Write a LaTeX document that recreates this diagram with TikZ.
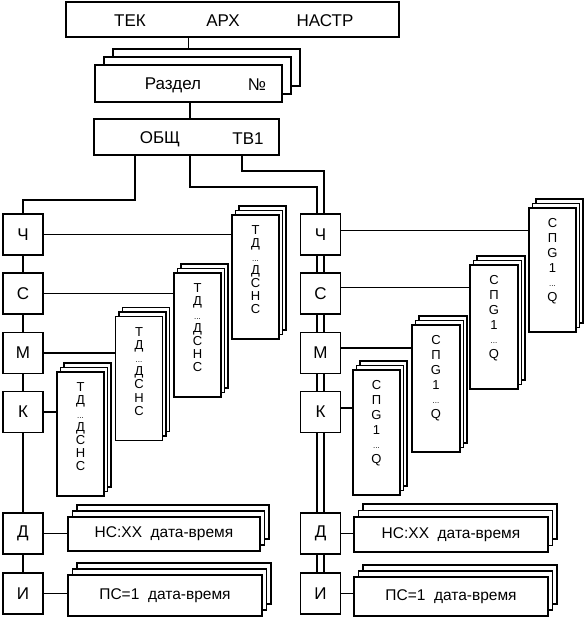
\documentclass[tikz,border=0pt]{standalone}
\usepackage{fontspec}
\setmainfont{Liberation Sans}
\usetikzlibrary{backgrounds}
\newcommand\mydots{{\fontsize{8}{8}\selectfont ...}}
\newcommand\mystack[7]{%
  \foreach \k in {2,1}{\draw[box] ({#2+\k*#6-#4/2},{#3-\k*#7-#5/2}) rectangle ++(#4,#5);}
  \node[box, minimum width=#4pt, minimum height=#5pt] (#1) at (#2,#3) {};
}
\tikzset{
  box/.style={draw, line width=1.7pt, fill=white, inner sep=0pt, outer sep=0pt},
  con/.style={line width=1.6pt},
  dbl/.style={line width=1.4pt},
  big/.style={font=\fontsize{17}{19}\selectfont, inner sep=0pt},
  rec/.style={font=\fontsize{15.5}{17}\selectfont, inner sep=0pt},
  col/.style={box, minimum width=40pt, minimum height=41pt, font=\fontsize{17}{19}\selectfont},
  vtxt/.style={align=center, font=\fontsize{13}{13.2}\selectfont, inner sep=0pt, anchor=north},
  vtxtb/.style={align=center, font=\fontsize{13}{14.8}\selectfont, inner sep=0pt, anchor=north},
}
\begin{document}
\begin{tikzpicture}[x=1pt,y=-1pt]
\useasboundingbox (0,0) rectangle (585,617);
% top boxes
\node[box, minimum width=333pt, minimum height=35pt] (top) at (232.5,19.5) {};
\node[big] (tek) at (130,21) {ТЕК};
\node[big] (arh) at (223,21) {АРХ};
\node[big] (nastr) at (325,21) {НАСТР};
\mystack{razdel}{188.5}{83.5}{187}{37}{9}{8}
\node[big] (razdelt) at (173,85) {Раздел};
\node[big] (nomer) at (257,85) {№};
\node[box, minimum width=185pt, minimum height=36pt] (obsch) at (186.5,137) {};
\node[big] (obscht) at (160,139) {ОБЩ};
\node[big] (tv1) at (248,139) {ТВ1};
% columns
\foreach \n/\t/\y in {ch/Ч/234.5, c/С/293.5, m/М/353, k/К/412, d/Д/533.5, i/И/593.5}{
  \node[col] (l\n) at (23,\y) {\t};
  \node[col] (r\n) at (320.5,\y) {\t};
}
% left stacks
\mystack{tdK}{80.5}{434}{47}{124}{3.5}{4.5}
\mystack{tdM}{139}{378.5}{47}{124}{3.5}{4.5}
\mystack{tdC}{197.5}{335}{47}{124}{3.5}{4.5}
\mystack{tdCh}{255.5}{277}{47}{124}{3.5}{4.5}
\foreach \s in {tdK,tdM,tdC,tdCh}{
  \node[vtxt] (\s t) at ([yshift=-10.5pt]\s.north) {Т\\Д\\\mydots\\Д\\С\\Н\\С};
}
% right stacks
\mystack{spK}{376.5}{432.5}{47}{125}{3.5}{4.5}
\mystack{spM}{436}{388.5}{48}{127}{3.5}{4.5}
\mystack{spC}{494}{327}{48}{124}{3.5}{4.5}
\mystack{spCh}{552.5}{270}{47}{124}{3.5}{4.5}
\foreach \s in {spK,spM,spC,spCh}{
  \node[vtxtb] (\s t) at ([yshift=-10.5pt]\s.north) {С\\П\\G\\1\\\mydots\\Q};
}
% bottom records
\mystack{ldr}{164}{534}{192}{34}{4.5}{6}
\node[rec] (ldrt) at (ldr) {НС:XX\ \ дата-время};
\mystack{lir}{165}{595.5}{194}{41}{4.5}{6}
\node[rec] (lirt) at (lir) {ПС=1\ \ дата-время};
\mystack{rdr}{451}{534.5}{194}{35}{4.5}{6.5}
\node[rec] (rdrt) at (rdr) {НС:XX\ \ дата-время};
\mystack{rir}{451}{596.5}{194}{39}{4.5}{6}
\node[rec] (rirt) at (rir) {ПС=1\ \ дата-время};
% connectors
\begin{scope}[on background layer]
\draw[con] (razdel.north) -- (razdel.north |- top.south);
\draw[con] ([xshift=1.5pt]razdel.south) -- ([xshift=1.5pt]razdel.south |- obsch.north);
\draw[con] ([xshift=41pt]obsch.south west) -- ++(0,45) -| (lch.north);
\draw[con] (lch) -- (li);
\draw[dbl] ([xshift=96pt]obsch.south west) -- ++(0,32) -| ([xshift=-3.5pt]ri.north);
\draw[dbl] ([xshift=148pt]obsch.south west) -- ++(0,16) -| ([xshift=3.5pt]ri.north);
\draw[con] (lch.east) -- (lch.east -| tdCh.west);
\draw[con] (lc.east) -- (lc.east -| tdC.west);
\draw[con] (lm.east) -- (lm.east -| tdM.west);
\draw[con] (lk.east) -- (lk.east -| tdK.west);
\draw[con] (ld.east) -- (ld.east -| ldr.west);
\draw[con] (li.east) -- (li.east -| lir.west);
\draw[con] ([yshift=4pt]rch.east) -- ([yshift=4pt]rch.east -| spCh.west);
\draw[con] ([yshift=6pt]rc.east) -- ([yshift=6pt]rc.east -| spC.west);
\draw[con] ([yshift=5pt]rm.east) -- ([yshift=5pt]rm.east -| spM.west);
\draw[con] ([yshift=4pt]rk.east) -- ([yshift=4pt]rk.east -| spK.west);
\draw[con] (rd.east) -- (rd.east -| rdr.west);
\draw[con] (ri.east) -- (ri.east -| rir.west);
\end{scope}
\end{tikzpicture}
\end{document}
